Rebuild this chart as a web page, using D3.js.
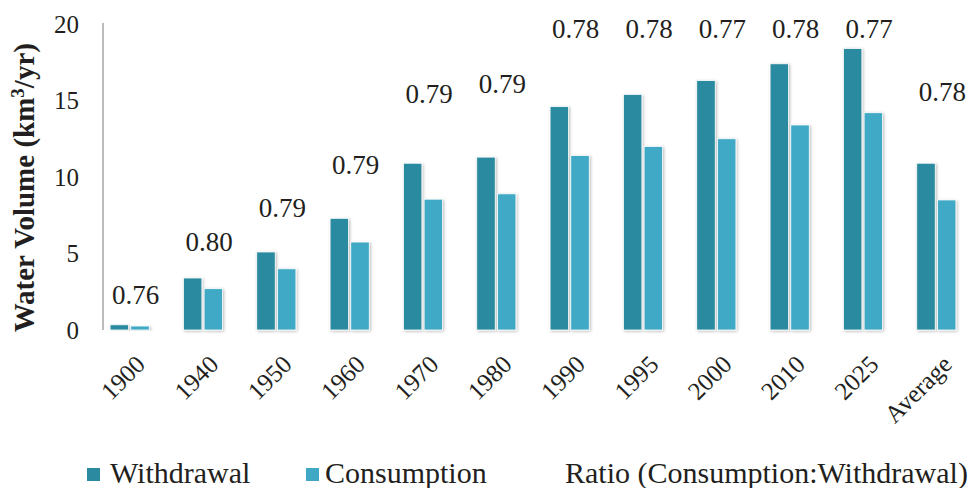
<!DOCTYPE html>
<html lang="en">
<head>
<meta charset="UTF-8">
<title>Water withdrawal and consumption</title>
<script src="https://cdn.jsdelivr.net/npm/d3@7"></script>
<style>
    body{
        margin:0;
        background:#fff;
    }
    .chart text{
        font-family:"Liberation Serif","DejaVu Serif",serif;
        fill:#231f20;
    }
</style>
</head>
<body>
<svg class="chart"></svg>
<script>
    // values
    const categories = ['1900','1940','1950','1960','1970','1980','1990','1995','2000','2010','2025','Average'];
    const withdrawal = [0.34, 3.4, 5.1, 7.3, 10.9, 11.3, 14.6, 15.4, 16.3, 17.4, 18.4, 10.9];
    const consumption = [0.26, 2.7, 4.0, 5.75, 8.55, 8.9, 11.4, 12.0, 12.5, 13.4, 14.2, 8.5];
    const ratio = ['0.76','0.80','0.79','0.79','0.79','0.79','0.78','0.78','0.77','0.78','0.77','0.78'];
    // height (km3/yr) at which each ratio label sits
    const ratioLevel = [2.35, 5.8, 8.0, 10.85, 15.5, 16.1, 19.7, 19.7, 19.7, 19.7, 19.7, 15.6];
    const yTicks = [0, 5, 10, 15, 20];
    const seriesNames = ['Withdrawal','Consumption','Ratio (Consumption:Withdrawal)'];

    const W = 974, H = 488;
    const colW = '#2b8a9f', colC = '#3fa9c5';

    const svg = d3.select('.chart').attr('width',W).attr('height',H);

    const defs = svg.append('defs');
    const f = defs.append('filter').attr('id','shadow')
        .attr('x','-30%').attr('y','-10%').attr('width','160%').attr('height','120%');
    f.append('feDropShadow').attr('dx',1).attr('dy',1).attr('stdDeviation',1.6)
        .attr('flood-color','#000').attr('flood-opacity',0.28);

    const x = d3.scaleBand().domain(categories).range([93, 973]);
    const y = d3.scaleLinear().domain([0,20]).range([330, 24]);

    const barW = 18.5, gap = 2.2;

    // axes lines
    svg.append('line')
        .attr('x1',103).attr('x2',103).attr('y1',y(20)-1).attr('y2',y(0))
        .attr('stroke','#a6a6a6').attr('stroke-width',1.5);
    svg.append('line')
        .attr('x1',103).attr('x2',974).attr('y1',y(0)).attr('y2',y(0))
        .attr('stroke','#a0a0a0').attr('stroke-width',1.8)
        .attr('filter','url(#shadow)');

    // y tick labels
    svg.append('g').selectAll('text').data(yTicks).enter()
        .append('text')
        .attr('x',79)
        .attr('y',d=>y(d))
        .attr('dy','0.34em')
        .attr('text-anchor','end')
        .style('font-size','25px')
        .text(d=>d);

    // bars
    const groups = svg.append('g').selectAll('g').data(categories).enter()
        .append('g')
        .attr('transform',d=>'translate('+(x(d)+x.bandwidth()/2)+',0)');

    groups.append('rect')
        .attr('x',-barW-gap/2)
        .attr('width',barW)
        .attr('y',(d,i)=>y(withdrawal[i]))
        .attr('height',(d,i)=>y(0)-y(withdrawal[i]))
        .attr('fill',colW)
        .attr('stroke','#fff').attr('stroke-width',0.8)
        .attr('filter','url(#shadow)');

    groups.append('rect')
        .attr('x',gap/2)
        .attr('width',barW)
        .attr('y',(d,i)=>y(consumption[i]))
        .attr('height',(d,i)=>y(0)-y(consumption[i]))
        .attr('fill',colC)
        .attr('stroke','#fff').attr('stroke-width',0.8)
        .attr('filter','url(#shadow)');

    // ratio labels
    groups.append('text')
        .attr('x',6)
        .attr('y',(d,i)=>y(ratioLevel[i]))
        .attr('dy','0.36em')
        .attr('text-anchor','middle')
        .style('font-size','27px')
        .text((d,i)=>ratio[i]);

    // x tick labels
    groups.append('text')
        .attr('transform','translate(17,366) rotate(-45)')
        .attr('text-anchor','end')
        .style('font-size','25px')
        .text(d=>d);

    // y axis title
    svg.append('text')
        .attr('transform','translate(34,'+y(9.3)+') rotate(-90)')
        .attr('text-anchor','middle')
        .style('font-size','29px')
        .style('font-weight','bold')
        .html('Water Volume (km<tspan dy="-10" style="font-size:19px">3</tspan><tspan dy="10">/yr)</tspan>');

    // legend
    const legend = svg.append('g').attr('transform','translate(0,483)');
    legend.append('rect').attr('x',87).attr('y',-15).attr('width',13).attr('height',13).attr('fill',colW);
    legend.append('text').attr('x',110).style('font-size','30px').text(seriesNames[0]);
    legend.append('rect').attr('x',306).attr('y',-15).attr('width',13).attr('height',13).attr('fill',colC);
    legend.append('text').attr('x',325).style('font-size','30px').text(seriesNames[1]);
    legend.append('text').attr('x',565).style('font-size','30px').text(seriesNames[2]);
</script>
</body>
</html>
